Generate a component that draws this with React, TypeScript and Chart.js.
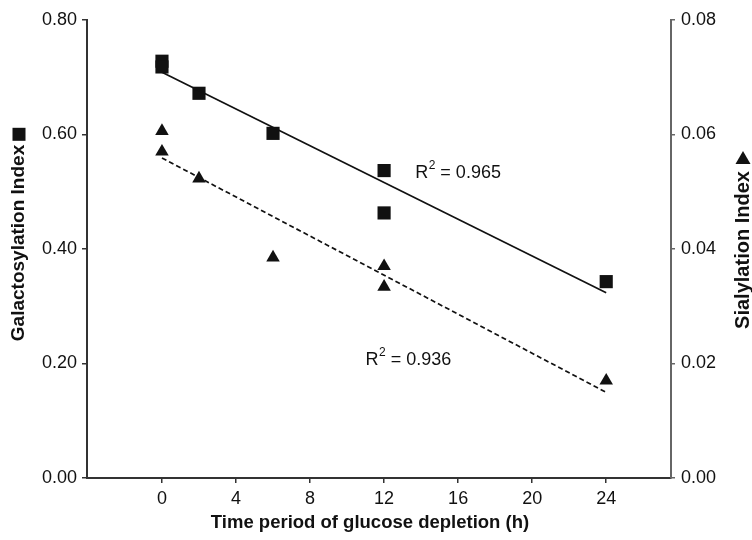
import React, { useEffect, useRef } from "react";
import { Chart, registerables } from "chart.js";

Chart.register(...registerables);

// ---- data ----
const galHours = [0, 0, 2, 6, 12, 12, 24];
const galIndex = [0.728, 0.718, 0.672, 0.602, 0.537, 0.463, 0.343];
const siaHours = [0, 0, 2, 6, 12, 12, 24];
const siaIndex = [0.0606, 0.057, 0.0523, 0.0385, 0.037, 0.0334, 0.017];
const xTicks = [0, 4, 8, 12, 16, 20, 24];
const leftTicks = [0, 0.2, 0.4, 0.6, 0.8];
const rightTicks = [0, 0.02, 0.04, 0.06, 0.08];
const galR2Text = "0.965";
const siaR2Text = "0.936";
const xTitle = "Time period of glucose depletion (h)";
const leftTitle = "Galactosylation Index";
const rightTitle = "Sialylation Index";

function linFit(xs: number[], ys: number[]) {
  const n = xs.length;
  const mx = xs.reduce((a, b) => a + b, 0) / n;
  const my = ys.reduce((a, b) => a + b, 0) / n;
  let sxy = 0;
  let sxx = 0;
  for (let i = 0; i < n; i++) {
    sxy += (xs[i] - mx) * (ys[i] - my);
    sxx += (xs[i] - mx) * (xs[i] - mx);
  }
  const slope = sxy / sxx;
  const icpt = my - slope * mx;
  const x0 = Math.min(...xs);
  const x1 = Math.max(...xs);
  return [
    { x: x0, y: icpt + slope * x0 },
    { x: x1, y: icpt + slope * x1 },
  ];
}

const FONT = "'Liberation Sans', Arial, Helvetica, sans-serif";
const INK = "#111111";

const decorPlugin = {
  id: "decor",
  afterDraw(chart: any) {
    const ctx = chart.ctx;
    const sx = chart.scales.x;
    const sy = chart.scales.y;
    const sy2 = chart.scales.y2;
    ctx.save();
    ctx.fillStyle = INK;

    // R² labels
    const drawR2 = (px: number, py: number, val: string) => {
      ctx.textBaseline = "middle";
      ctx.textAlign = "left";
      ctx.font = `18px ${FONT}`;
      ctx.fillText("R", px, py);
      let w = ctx.measureText("R").width;
      ctx.font = `12px ${FONT}`;
      ctx.fillText("2", px + w + 0.5, py - 7);
      w += ctx.measureText("2").width + 0.5;
      ctx.font = `18px ${FONT}`;
      ctx.fillText(" = " + val, px + w, py);
    };
    drawR2(sx.getPixelForValue(13.68), sy.getPixelForValue(0.533), galR2Text);
    drawR2(sx.getPixelForValue(11.0), sy2.getPixelForValue(0.0206), siaR2Text);

    const mark = 13;

    // left title (rotated, reading upward) + square
    ctx.save();
    ctx.font = `bold 19px ${FONT}`;
    const lw = ctx.measureText(leftTitle).width;
    ctx.translate(19, 243);
    ctx.rotate(-Math.PI / 2);
    ctx.textAlign = "center";
    ctx.textBaseline = "middle";
    ctx.fillText(leftTitle, 0, 0);
    ctx.fillRect(lw / 2 + 4, -6.5, mark, mark);
    ctx.restore();

    // right title + triangle
    ctx.save();
    ctx.font = `bold 20px ${FONT}`;
    const rw = ctx.measureText(rightTitle).width;
    ctx.translate(743, 250);
    ctx.rotate(-Math.PI / 2);
    ctx.textAlign = "center";
    ctx.textBaseline = "middle";
    ctx.fillText(rightTitle, 0, 0);
    const bx = rw / 2 + 7;
    ctx.beginPath();
    ctx.moveTo(bx, -7.5);
    ctx.lineTo(bx, 7.5);
    ctx.lineTo(bx + mark, 0);
    ctx.closePath();
    ctx.fill();
    ctx.restore();

    // x title
    ctx.font = `bold 18.5px ${FONT}`;
    ctx.textAlign = "center";
    ctx.textBaseline = "middle";
    ctx.fillText(xTitle, 370, 523);

    ctx.restore();
  },
};

export default function App() {
  const ref = useRef<HTMLCanvasElement | null>(null);

  useEffect(() => {
    if (!ref.current) return;
    const galPts = galHours.map((h, i) => ({ x: h, y: galIndex[i] }));
    const siaPts = siaHours.map((h, i) => ({ x: h, y: siaIndex[i] }));
    const galLine = linFit(galHours, galIndex);
    const siaLine = linFit(siaHours, siaIndex);

    const chart = new Chart(ref.current, {
      type: "scatter",
      data: {
        datasets: [
          {
            type: "line",
            data: galLine,
            yAxisID: "y",
            borderColor: INK,
            borderWidth: 1.7,
            pointRadius: 0,
            showLine: true,
            fill: false,
          } as any,
          {
            type: "line",
            data: siaLine,
            yAxisID: "y2",
            borderColor: INK,
            borderWidth: 1.7,
            borderDash: [5, 3],
            pointRadius: 0,
            showLine: true,
            fill: false,
          } as any,
          {
            data: galPts,
            yAxisID: "y",
            pointStyle: "rect",
            pointRadius: 9.3,
            backgroundColor: INK,
            borderColor: INK,
            borderWidth: 0,
          },
          {
            data: siaPts,
            yAxisID: "y2",
            pointStyle: "triangle",
            pointRadius: 7.8,
            backgroundColor: INK,
            borderColor: INK,
            borderWidth: 0,
          },
        ],
      },
      options: {
        responsive: false,
        animation: false,
        events: [],
        layout: { padding: { top: 20, left: 0, right: 0, bottom: 0 } },
        plugins: {
          legend: { display: false },
          tooltip: { enabled: false },
        },
        scales: {
          x: {
            type: "linear",
            min: -4.05,
            max: 27.5,
            afterBuildTicks: (s: any) => {
              s.ticks = xTicks.map((v) => ({ value: v }));
            },
            afterFit: (s: any) => {
              s.height = 62;
            },
            grid: {
              drawOnChartArea: false,
              drawTicks: true,
              tickLength: 5,
              color: "#333",
              lineWidth: 1.5,
            },
            border: { display: true, color: "#333", width: 2 },
            ticks: {
              color: INK,
              font: { family: FONT, size: 18 },
              padding: 5,
              callback: (v: any) => String(v),
            },
          },
          y: {
            type: "linear",
            position: "left",
            min: 0,
            max: 0.8,
            afterBuildTicks: (s: any) => {
              s.ticks = leftTicks.map((v) => ({ value: v }));
            },
            afterFit: (s: any) => {
              s.width = 87;
            },
            grid: {
              drawOnChartArea: false,
              drawTicks: true,
              tickLength: 5,
              color: "#333",
              lineWidth: 1.5,
            },
            border: { display: true, color: "#333", width: 2 },
            ticks: {
              color: INK,
              font: { family: FONT, size: 18 },
              padding: 5,
              callback: (v: any) => Number(v).toFixed(2),
            },
          },
          y2: {
            type: "linear",
            position: "right",
            min: 0,
            max: 0.08,
            afterBuildTicks: (s: any) => {
              s.ticks = rightTicks.map((v) => ({ value: v }));
            },
            afterFit: (s: any) => {
              s.width = 81;
            },
            grid: {
              drawOnChartArea: false,
              drawTicks: true,
              tickLength: 4,
              color: "#666",
              lineWidth: 1.5,
            },
            border: { display: true, color: "#666", width: 2 },
            ticks: {
              color: INK,
              font: { family: FONT, size: 18 },
              padding: 6,
              callback: (v: any) => Number(v).toFixed(2),
            },
          },
        },
      },
      plugins: [decorPlugin],
    } as any);

    return () => chart.destroy();
  }, []);

  return (
    <div style={{ position: "fixed", left: 0, top: 0, width: 752, height: 540, background: "#fff" }}>
      <canvas ref={ref} width={752} height={540} />
    </div>
  );
}
